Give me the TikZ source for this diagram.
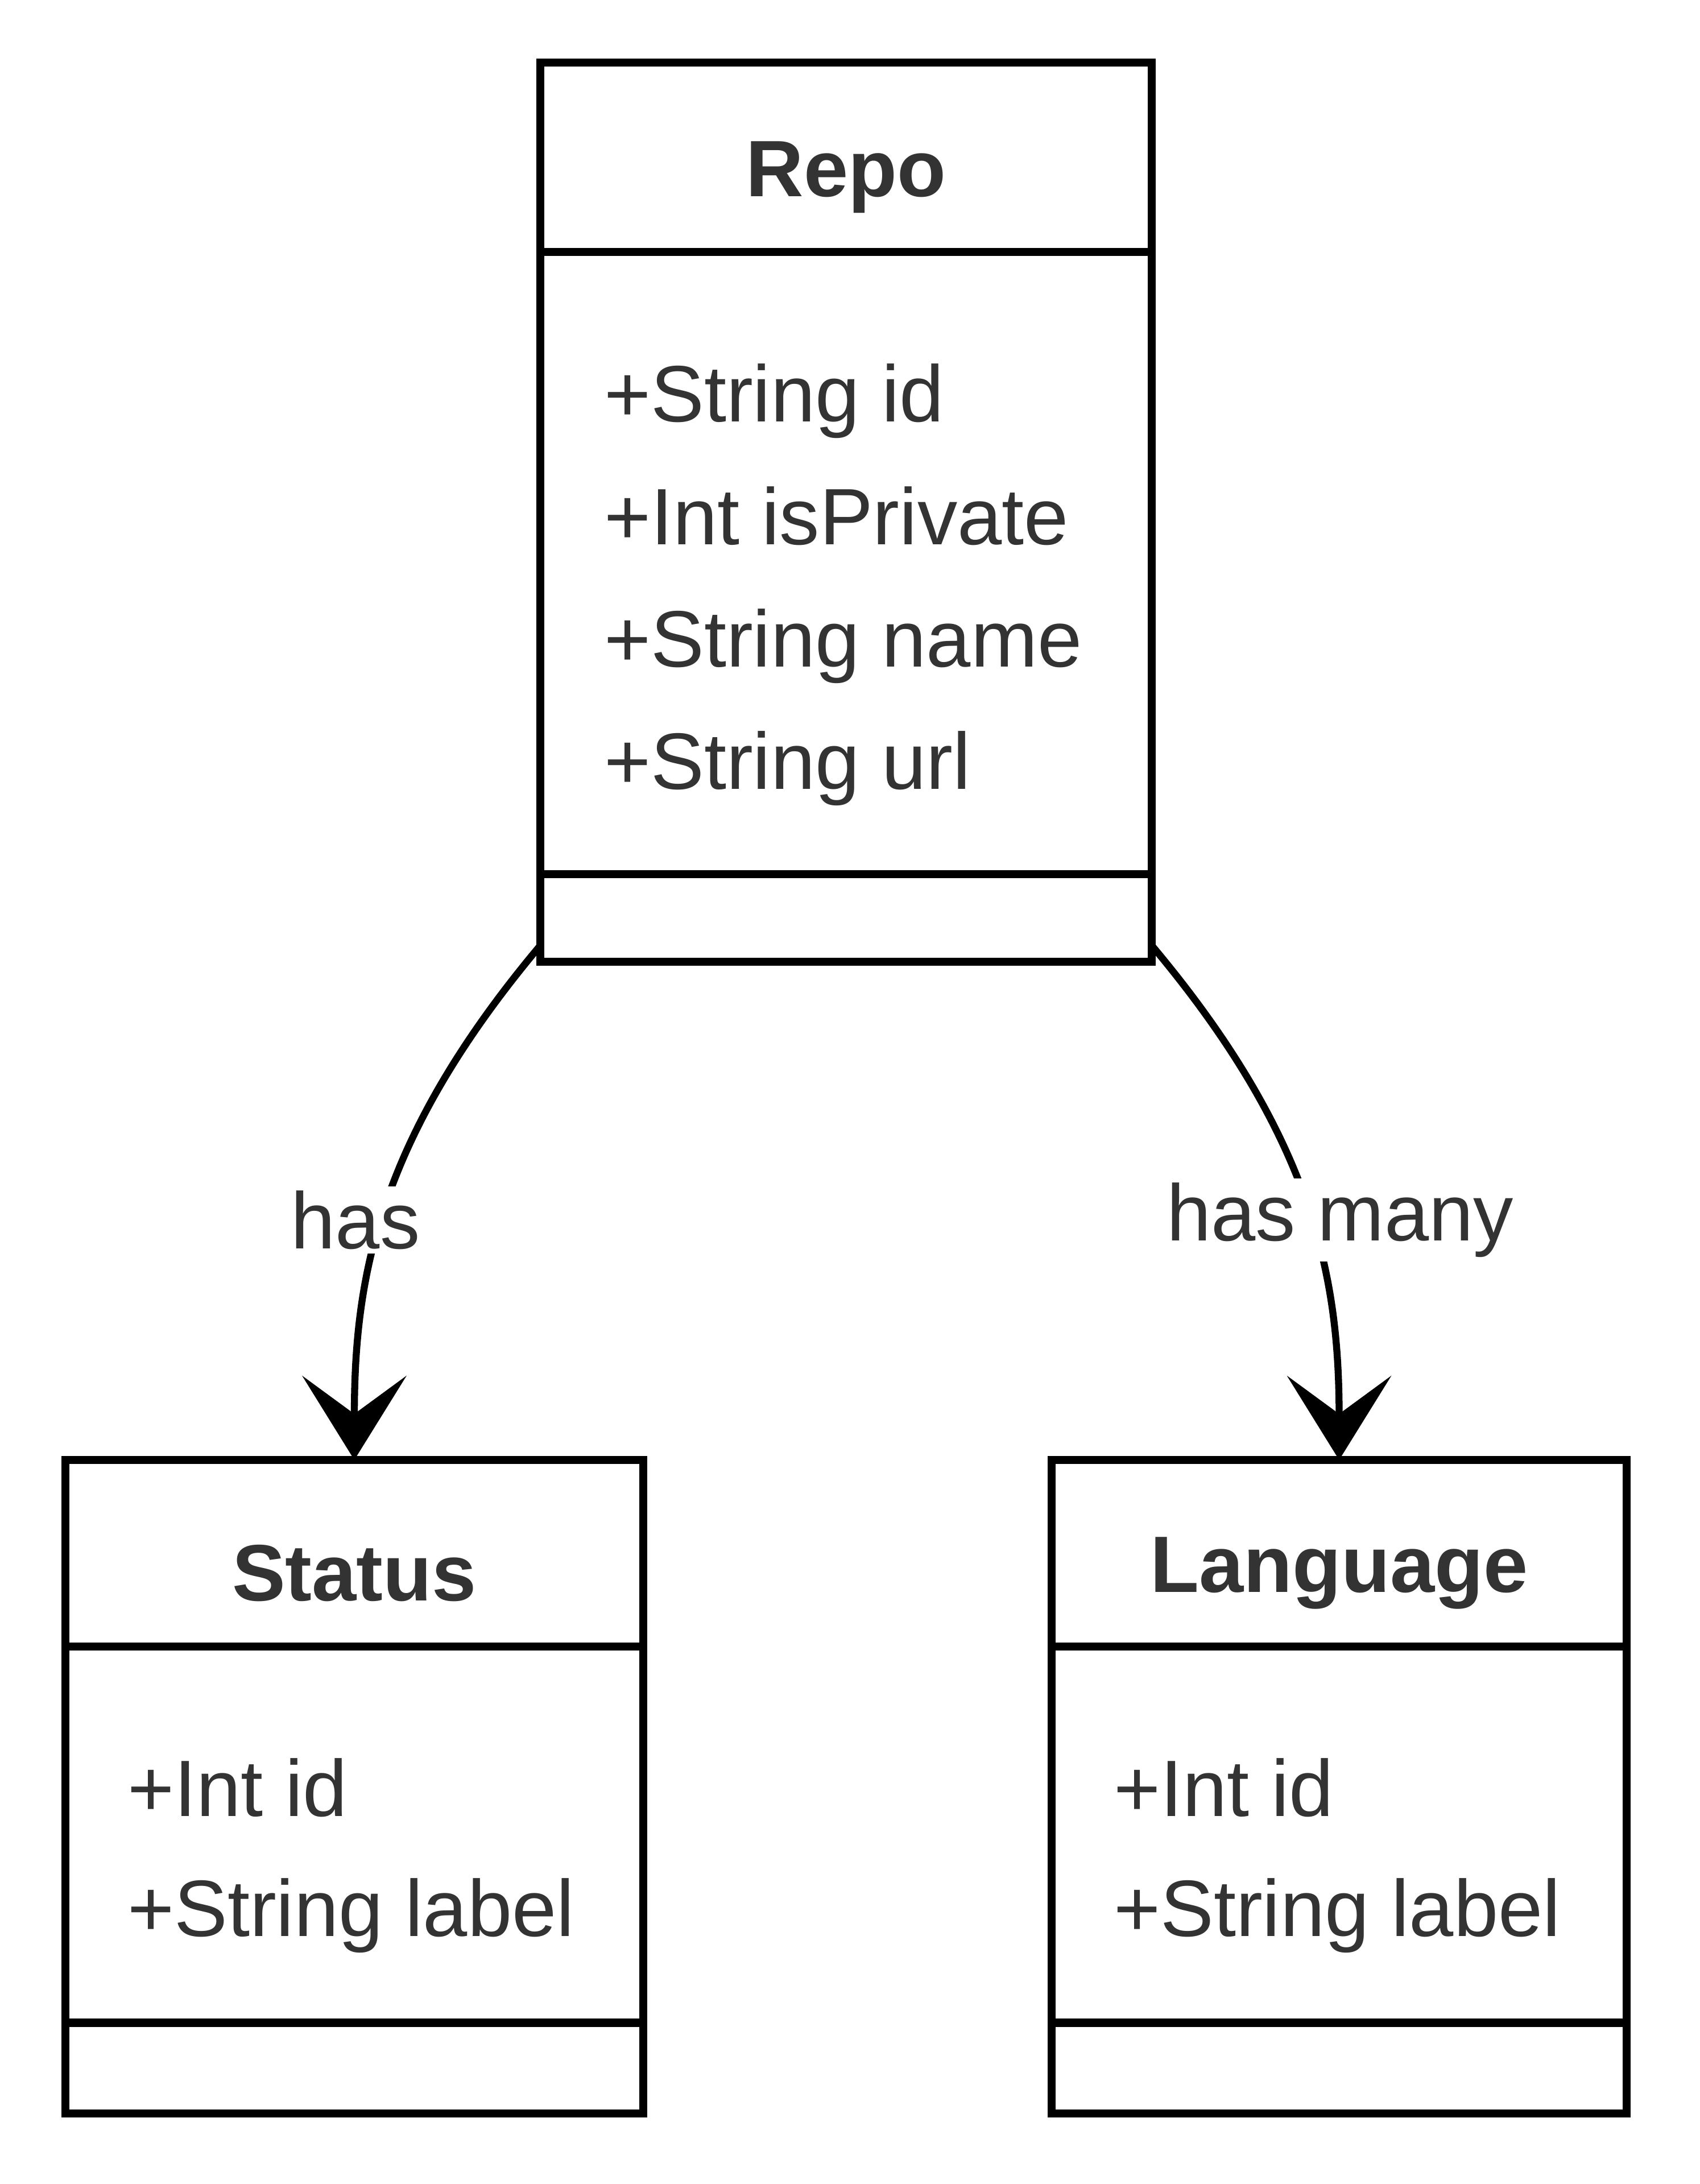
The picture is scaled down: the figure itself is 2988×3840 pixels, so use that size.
\documentclass[tikz,border=0pt]{standalone}
\usepackage{fontspec}
\setmainfont{Liberation Sans}
\usetikzlibrary{arrows.meta,positioning}
\definecolor{umltext}{HTML}{333333}

\begin{document}
\begin{tikzpicture}[x=0.01cm, y=-0.01cm, line width=4pt,
    every node/.style={font=\fontsize{40}{48}\selectfont, text=umltext},
    compart/.style={draw=black, rectangle, inner sep=0pt, outer sep=0pt},
    classname/.style={font=\fontsize{40}{48}\selectfont\bfseries, yshift=-10pt},
    attr/.style={anchor=base west, inner sep=0pt},
    assoc/.style={line width=3.5pt, -{Stealth[length=42pt, width=52pt, inset=19pt]}},
    edgelabel/.style={fill=white, inner sep=2pt}]
    \useasboundingbox (0,0) rectangle (2988,3840);
    % Repo
    \node[compart, minimum width=10.75cm, minimum height=3.33cm] (repoHead) at (1487.5,276.5) {};
    \node[compart, minimum width=10.75cm, minimum height=10.93cm, below=0pt of repoHead] (repoAttr) {};
    \node[compart, minimum width=10.75cm, minimum height=1.54cm, below=0pt of repoAttr] (repoOps) {};
    \node[classname] (repoName) at (repoHead) {Repo};
    \node[attr] (repoId)      at (1055,742)  {+String id};
    \node[attr] (repoPrivate) at (1055,957)  {+Int isPrivate};
    \node[attr] (repoTitle)   at (1055,1172) {+String name};
    \node[attr] (repoUrl)     at (1055,1387) {+String url};
    % Status
    \node[compart, minimum width=10.16cm, minimum height=3.28cm] (statusHead) at (623,2731) {};
    \node[compart, minimum width=10.16cm, minimum height=6.61cm, below=0pt of statusHead] (statusAttr) {};
    \node[compart, minimum width=10.16cm, minimum height=1.59cm, below=0pt of statusAttr] (statusOps) {};
    \node[classname] (statusName) at (statusHead) {Status};
    \node[attr] (statusId)    at (217,3193) {+Int id};
    \node[attr] (statusLabel) at (217,3404) {+String label};
    % Language
    \node[compart, minimum width=10.11cm, minimum height=3.28cm] (langHead) at (2354.5,2731) {};
    \node[compart, minimum width=10.11cm, minimum height=6.61cm, below=0pt of langHead] (langAttr) {};
    \node[compart, minimum width=10.11cm, minimum height=1.59cm, below=0pt of langAttr] (langOps) {};
    \node[classname] (langName) at (langHead) {Language};
    \node[attr] (langId)    at (1951,3193) {+Int id};
    \node[attr] (langLabel) at (1951,3404) {+String label};
    % associations
    \draw[assoc] ([yshift=8pt]repoOps.south west) .. controls +(-288,343) and +(0,-315) .. (statusHead.north);
    \draw[assoc] ([yshift=8pt]repoOps.south east) .. controls +(288,343) and +(0,-315) .. (langHead.north);
    \node[edgelabel] (hasLabel)     at (625,2145)  {has};
    \node[edgelabel] (hasManyLabel) at (2356,2145) {has many};
  \end{tikzpicture}
\end{document}
